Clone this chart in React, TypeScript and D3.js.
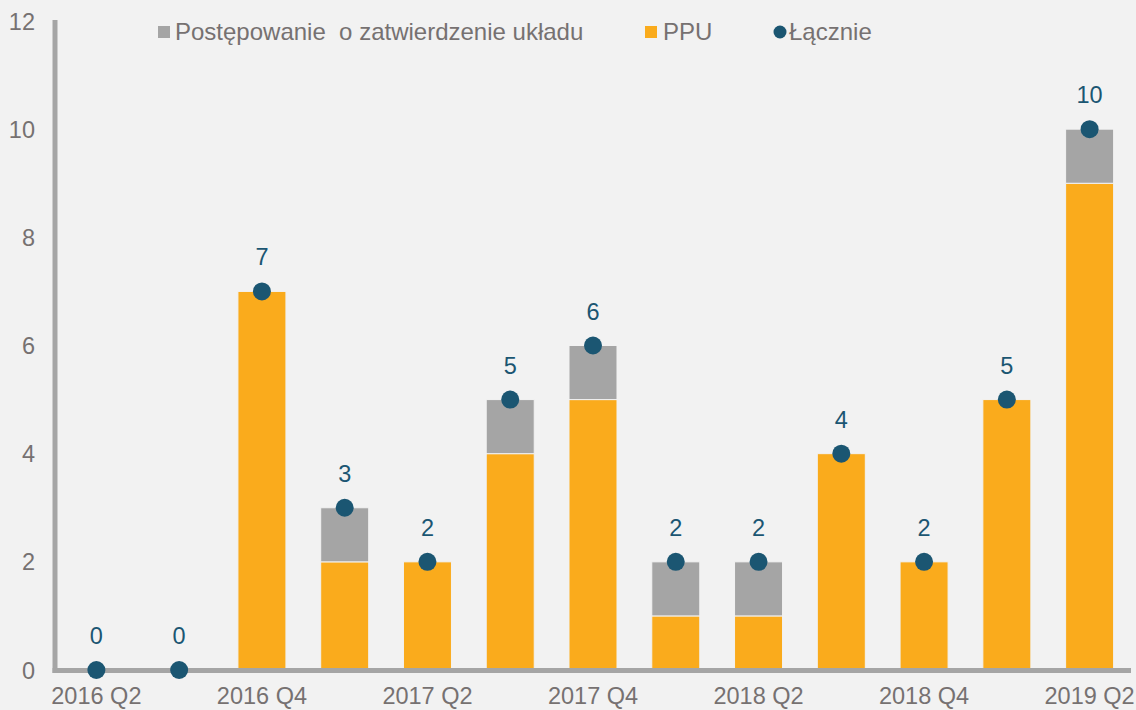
import React, { useRef, useEffect } from 'react';
import * as d3 from 'd3';

const categories = [
  '2016 Q2', '2016 Q3', '2016 Q4', '2017 Q1', '2017 Q2', '2017 Q3', '2017 Q4',
  '2018 Q1', '2018 Q2', '2018 Q3', '2018 Q4', '2019 Q1', '2019 Q2',
];
const ppu = [0, 0, 7, 2, 2, 4, 5, 1, 1, 4, 2, 5, 9];
const uklad = [0, 0, 0, 1, 0, 1, 1, 1, 1, 0, 0, 0, 1];
const lacznie = [0, 0, 7, 3, 2, 5, 6, 2, 2, 4, 2, 5, 10];
const shownTicks = ['2016 Q2', '2016 Q4', '2017 Q2', '2017 Q4', '2018 Q2', '2018 Q4', '2019 Q2'];
const yTicks = [0, 2, 4, 6, 8, 10, 12];

const W = 1136;
const H = 710;
const ORANGE = '#FAAB1C';
const GREY = '#A5A5A5';
const DOT = '#1B5672';
const TEXT = '#767171';
const FS = '23.5px';

const App: React.FC = () => {
  const svgRef = useRef<SVGSVGElement>(null);

  useEffect(() => {
    if (!svgRef.current) return;
    const svg = d3.select(svgRef.current);
    svg.selectAll('*').remove();
    svg.style('font-family', '"Liberation Sans", Arial, sans-serif');

    svg.append('rect').attr('width', W).attr('height', H).attr('fill', '#F2F2F2');

    const left = 55;
    const right = 1131;
    const y = d3.scaleLinear().domain([0, 12]).range([670, 21]);
    const x = d3.scaleBand().domain(categories).range([left, right]).paddingInner(0.42).paddingOuter(0.21);

    // y tick labels
    svg.append('g')
      .selectAll('text')
      .data(yTicks)
      .join('text')
      .attr('x', 35)
      .attr('y', d => y(d) + 8.5)
      .attr('text-anchor', 'end')
      .attr('fill', TEXT)
      .style('font-size', FS)
      .text(d => d);

    // stacked bars
    const bars = svg.append('g');
    categories.forEach((c, i) => {
      const x0 = x(c) || 0;
      if (ppu[i] > 0) {
        bars.append('rect')
          .attr('x', x0).attr('width', x.bandwidth())
          .attr('y', y(ppu[i])).attr('height', y(0) - y(ppu[i]))
          .attr('fill', ORANGE)
          .attr('stroke', '#F2F2F2').attr('stroke-width', 1);
      }
      if (uklad[i] > 0) {
        bars.append('rect')
          .attr('x', x0).attr('width', x.bandwidth())
          .attr('y', y(ppu[i] + uklad[i])).attr('height', y(ppu[i]) - y(ppu[i] + uklad[i]))
          .attr('fill', GREY)
          .attr('stroke', '#F2F2F2').attr('stroke-width', 1);
      }
    });

    // axes
    svg.append('line')
      .attr('x1', left).attr('x2', left).attr('y1', 20).attr('y2', 673)
      .attr('stroke', GREY).attr('stroke-width', 5);
    svg.append('line')
      .attr('x1', left - 2.5).attr('x2', right).attr('y1', 670.5).attr('y2', 670.5)
      .attr('stroke', GREY).attr('stroke-width', 5);

    // x labels
    svg.append('g')
      .selectAll('text')
      .data(shownTicks)
      .join('text')
      .attr('x', d => (x(d) || 0) + x.bandwidth() / 2)
      .attr('y', 704)
      .attr('text-anchor', 'middle')
      .attr('fill', TEXT)
      .style('font-size', FS)
      .text(d => d);

    // total dots + labels
    const cx = (i: number) => (x(categories[i]) || 0) + x.bandwidth() / 2;
    svg.append('g')
      .selectAll('circle')
      .data(lacznie)
      .join('circle')
      .attr('cx', (_d, i) => cx(i))
      .attr('cy', d => y(d))
      .attr('r', 9)
      .attr('fill', DOT);
    svg.append('g')
      .selectAll('text')
      .data(lacznie)
      .join('text')
      .attr('x', (_d, i) => cx(i))
      .attr('y', d => y(d) - 26)
      .attr('text-anchor', 'middle')
      .attr('fill', DOT)
      .style('font-size', FS)
      .text(d => d);

    // legend
    const lg = svg.append('g').style('font-size', '24px').attr('fill', TEXT);
    lg.append('rect').attr('x', 158).attr('y', 26).attr('width', 12).attr('height', 12).attr('fill', GREY);
    lg.append('text').attr('x', 175).attr('y', 40).text('Postępowanie\u00a0\u00a0o zatwierdzenie układu');
    lg.append('rect').attr('x', 645).attr('y', 26).attr('width', 12).attr('height', 12).attr('fill', ORANGE);
    lg.append('text').attr('x', 663).attr('y', 40).text('PPU');
    lg.append('circle').attr('cx', 780).attr('cy', 32).attr('r', 6.5).attr('fill', DOT);
    lg.append('text').attr('x', 789).attr('y', 40).text('Łącznie');
  }, []);

  return (
    <svg
      ref={svgRef}
      width={W}
      height={H}
      style={{ position: 'absolute', left: 0, top: 0, display: 'block' }}
    />
  );
};

export default App;
